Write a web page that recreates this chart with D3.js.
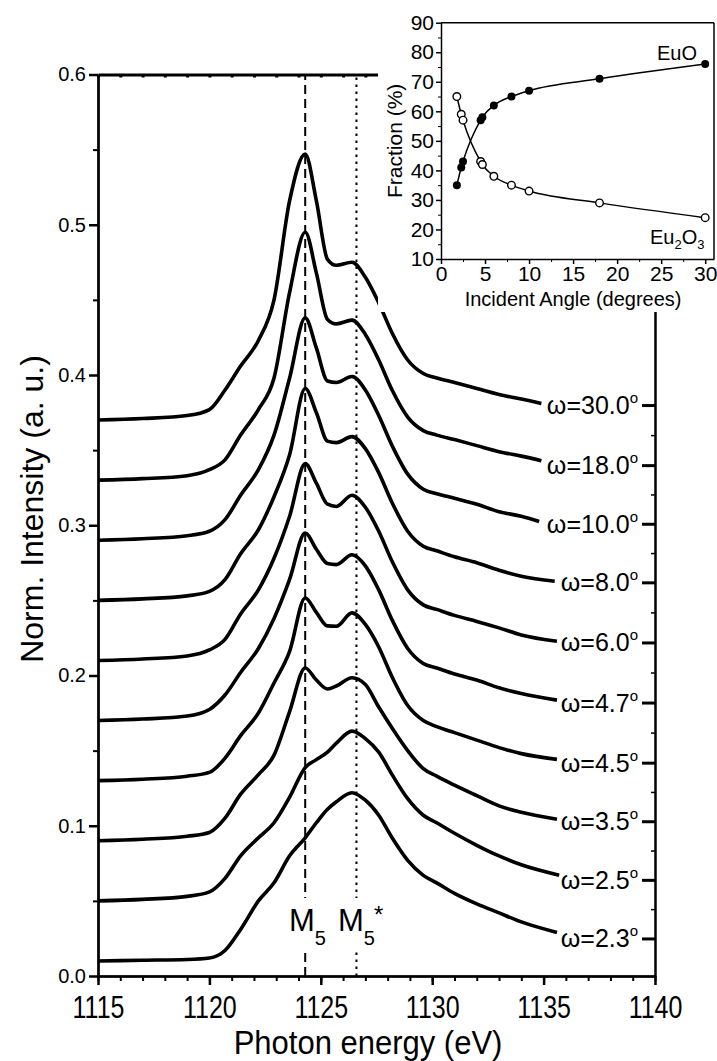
<!DOCTYPE html>
<html><head><meta charset="utf-8">
<script src="https://cdn.jsdelivr.net/npm/d3@7"></script>
<style>
body{margin:0;background:#fff}
svg{display:block}
text{font-family:"Liberation Sans",Arial,sans-serif;fill:#000}
</style>
</head><body>
<svg id="c" width="717" height="1061"></svg>
<script>
// ---------------- data ----------------
const energies = [1115,1117,1119,1120,1120.7,1121.4,1122.2,1122.9,1123.6,1124.3,1124.8,1125.3,1125.7,1126.4,1127.0,1127.6,1128.2,1128.9,1129.6,1130.2,1131.0,1132.0,1133.0,1134.0];
const angleLabels = ["30.0","18.0","10.0","8.0","6.0","4.7","4.5","3.5","2.5","2.3"];
const endEnergies = [1134.9,1134.9,1134.8,1135.5,1135.6,1135.6,1135.6,1135.6,1135.7,1135.6];
const w30 = [.370,.371,.373,.377,.390,.406,.423,.450,.516,.547,.516,.477,.473,.475,.465,.448,.428,.410,.401,.398,.395,.391,.387,.384,.381];
const w18 = [.330,.331,.333,.337,.3435,.360,.377,.398,.455,.495,.468,.437,.434,.4365,.427,.410,.390,.372,.363,.360,.357,.353,.349,.346,.343];
const w10 = [.290,.291,.293,.296,.3037,.320,.337,.360,.398,.438,.418,.396,.395,.399,.390,.373,.353,.334,.324,.321,.318,.314,.309,.306,.3025];
const w8  = [.250,.251,.253,.256,.2638,.281,.297,.319,.347,.391,.375,.356,.355,.359,.351,.335,.315,.296,.286,.283,.279,.275,.270,.266,.2627];
const w6  = [.210,.211,.213,.217,.224,.241,.257,.278,.306,.341,.328,.314,.3125,.320,.312,.296,.276,.257,.247,.244,.240,.236,.2317,.227,.2228];
const w47 = [.170,.171,.173,.1774,.187,.202,.218,.238,.264,.2948,.284,.2745,.2738,.2804,.273,.257,.237,.218,.208,.205,.201,.197,.1918,.188,.1836];
const w45 = [.130,.131,.133,.1355,.145,.160,.175,.195,.216,.2516,.242,.233,.2328,.2417,.234,.219,.199,.180,.170,.166,.162,.157,.152,.148,.1442];
const w35 = [.090,.091,.093,.0955,.105,.121,.134,.147,.176,.205,.197,.191,.193,.1985,.194,.179,.165,.150,.138,.133,.127,.120,.1132,.109,.1043];
const w25 = [.050,.051,.053,.056,.065,.080,.092,.102,.119,.1387,.144,.149,.155,.163,.158,.149,.134,.118,.107,.102,.095,.087,.0799,.074,.0671];
const w23 = [.010,.0105,.011,.012,.017,.031,.050,.062,.080,.092,.102,.111,.116,.122,.117,.107,.092,.077,.067,.062,.055,.048,.042,.036,.029];
const labelTicks = [0.380,0.340,0.301,0.262,0.222,0.182,0.142,0.103,0.064,0.025];
const peakLines = [1124.3, 1126.6];
const xTickValues = [1115,1120,1125,1130,1135,1140];
const yTickValues = [0.0,0.1,0.2,0.3,0.4,0.5,0.6];

// inset data
const insetAngles = [1.8,2.3,2.5,4.5,4.7,6,8,10,18,30];
const euoFraction = [35,41,43,57,58,62,65,67,71,76];
const eu2o3Fraction = [65,59,57,43,42,38,35,33,29,24];
const insetXTicks = [0,5,10,15,20,25,30];
const insetYTicks = [10,20,30,40,50,60,70,80,90];

// ---------------- drawing ----------------
const series = [w30,w18,w10,w8,w6,w47,w45,w35,w25,w23];
const svg = d3.select("#c");
const x = d3.scaleLinear().domain([1115,1140]).range([98,655]);
const y = d3.scaleLinear().domain([0,0.6]).range([976,74.5]);

// vertical reference lines
svg.append("line").attr("x1",x(peakLines[0])).attr("x2",x(peakLines[0]))
  .attr("y1",y(0)).attr("y2",y(0.6)).attr("stroke","#000").attr("stroke-width",2)
  .attr("stroke-dasharray","9,5");
svg.append("line").attr("x1",x(peakLines[1])).attr("x2",x(peakLines[1]))
  .attr("y1",y(0)).attr("y2",y(0.6)).attr("stroke","#000").attr("stroke-width",2)
  .attr("stroke-dasharray","2.5,4.5");

// M5 labels (white background breaks the lines)
svg.append("rect").attr("x",286).attr("y",898).attr("width",108).attr("height",52).attr("fill","#fff");
const m = svg.append("text").attr("x",289).attr("y",931).style("font-size","31px");
m.append("tspan").text("M");
m.append("tspan").attr("dy",14).style("font-size","20px").text("5");
const m2 = svg.append("text").attr("x",338).attr("y",931).style("font-size","31px");
m2.append("tspan").text("M");
m2.append("tspan").attr("dy",14).style("font-size","20px").text("5");
m2.append("tspan").attr("dy",-22).attr("dx",-1).style("font-size","24px").text("*");

// spectra
const line = d3.line().x(d=>x(d[0])).y(d=>y(d[1])).curve(d3.curveMonotoneX);
series.forEach((s,k)=>{
  const pts = s.map((v,i)=>[i<energies.length?energies[i]:endEnergies[k], v]);
  svg.append("path").attr("d",line(pts)).attr("fill","none").attr("stroke","#000")
    .attr("stroke-width",3.6).attr("stroke-linejoin","round");
});

// axes
function styleAxis(g, w){
  g.select(".domain").attr("stroke-width",w);
  g.selectAll(".tick line").attr("stroke-width",w);
}
const gb = svg.append("g").attr("transform",`translate(0,${y(0)})`)
  .call(d3.axisBottom(x).tickValues(xTickValues).tickSize(9).tickSizeOuter(0).tickFormat(d3.format("d")));
styleAxis(gb,2.5);
gb.selectAll("text").attr("y",null).attr("dy",null)
  .attr("transform","translate(0,42) scale(1,1.25)").style("font-size","25px");
const gbm = svg.append("g").attr("transform",`translate(0,${y(0)})`)
  .call(d3.axisBottom(x).tickValues(d3.range(1115,1141,1)).tickSize(5).tickSizeOuter(0).tickFormat(""));
styleAxis(gbm,2);

const gl = svg.append("g").attr("transform",`translate(${x(1115)},0)`)
  .call(d3.axisLeft(y).tickValues(yTickValues).tickSize(9).tickSizeOuter(0).tickPadding(3).tickFormat(d3.format(".1f")));
styleAxis(gl,2.5);
gl.selectAll("text").style("font-size","20px");
const glm = svg.append("g").attr("transform",`translate(${x(1115)},0)`)
  .call(d3.axisLeft(y).tickValues(d3.range(0.05,0.6,0.1)).tickSize(5).tickSizeOuter(0).tickFormat(""));
styleAxis(glm,2);

// top axis (inward minor ticks)
const gt = svg.append("g").attr("transform",`translate(0,${y(0.6)})`)
  .call(d3.axisTop(x).tickValues(d3.range(1115,1141,1)).tickSize(-3).tickSizeOuter(0).tickFormat(""));
styleAxis(gt,3);

// right axis with inward ticks at label positions
const gr = svg.append("g").attr("transform",`translate(${x(1140)},0)`)
  .call(d3.axisRight(y).tickValues(labelTicks).tickSize(-13).tickSizeOuter(0).tickFormat(""));
styleAxis(gr,2.5);
gr.selectAll(".tick line").attr("stroke-width",3);
const gr2 = svg.append("g").attr("transform",`translate(${x(1140)},0)`)
  .call(d3.axisRight(y).tickValues(d3.pairs(labelTicks).map(p=>(p[0]+p[1])/2)).tickSize(-4).tickSizeOuter(0).tickFormat(""));
gr2.select(".domain").remove();
gr2.selectAll(".tick line").attr("stroke-width",1.5);

// curve labels
labelTicks.forEach((v,i)=>{
  const t = svg.append("text").attr("x",638).attr("y",y(v)+9).attr("text-anchor","end").style("font-size","25px");
  t.append("tspan").text("ω");
  t.append("tspan").text("="+angleLabels[i]);
  t.append("tspan").attr("dy",-11).style("font-size","15px").text("o");
});

// axis titles
svg.append("text").attr("transform","translate(368,1054) scale(1,1.08)").attr("text-anchor","middle").style("font-size","31px").text("Photon energy (eV)");
svg.append("text").attr("transform","translate(43,509) rotate(-90)").attr("text-anchor","middle").style("font-size","32px").text("Norm. Intensity (a. u.)");

// ---------------- inset ----------------
svg.append("rect").attr("x",378).attr("y",0).attr("width",339).attr("height",312).attr("fill","#fff");
const ix = d3.scaleLinear().domain([0,31]).range([441,714]);
const iy = d3.scaleLinear().domain([10,90]).range([259,22.7]);
const ib = svg.append("g").attr("transform",`translate(0,${iy(10)})`)
  .call(d3.axisBottom(ix).tickValues(insetXTicks).tickSize(5).tickSizeOuter(0).tickPadding(2));
styleAxis(ib,1.5);
ib.selectAll("text").style("font-size","21px");
const ibm = svg.append("g").attr("transform",`translate(0,${iy(10)})`)
  .call(d3.axisBottom(ix).tickValues(d3.range(2.5,31,5)).tickSize(3).tickSizeOuter(0).tickFormat(""));
ibm.select(".domain").remove();
const il = svg.append("g").attr("transform",`translate(${ix(0)},0)`)
  .call(d3.axisLeft(iy).tickValues(insetYTicks).tickSize(5).tickSizeOuter(0).tickPadding(2));
styleAxis(il,1.5);
il.selectAll("text").style("font-size","21px");
const ilm = svg.append("g").attr("transform",`translate(${ix(0)},0)`)
  .call(d3.axisLeft(iy).tickValues(d3.range(15,90,10)).tickSize(3).tickSizeOuter(0).tickFormat(""));
ilm.select(".domain").remove();
svg.append("line").attr("x1",ix(0)).attr("x2",ix(31)).attr("y1",iy(90)).attr("y2",iy(90)).attr("stroke","#000").attr("stroke-width",1.5);
svg.append("line").attr("x1",ix(31)).attr("x2",ix(31)).attr("y1",iy(90)).attr("y2",iy(10)).attr("stroke","#000").attr("stroke-width",1.5);

const iline = d3.line().x(d=>ix(d[0])).y(d=>iy(d[1])).curve(d3.curveMonotoneX);
const euoPts = insetAngles.map((a,i)=>[a,euoFraction[i]]);
const eu2Pts = insetAngles.map((a,i)=>[a,eu2o3Fraction[i]]);
svg.append("path").attr("d",iline(euoPts)).attr("fill","none").attr("stroke","#000").attr("stroke-width",1.5);
svg.append("path").attr("d",iline(eu2Pts)).attr("fill","none").attr("stroke","#000").attr("stroke-width",1.5);
svg.selectAll(".euo").data(euoPts).join("circle").attr("cx",d=>ix(d[0])).attr("cy",d=>iy(d[1])).attr("r",4).attr("fill","#000");
svg.selectAll(".eu2").data(eu2Pts).join("circle").attr("cx",d=>ix(d[0])).attr("cy",d=>iy(d[1])).attr("r",3.8).attr("fill","#fff").attr("stroke","#000").attr("stroke-width",1.4);

svg.append("text").attr("x",ix(15.0)).attr("y",306).attr("text-anchor","middle").style("font-size","20px").text("Incident Angle (degrees)");
svg.append("text").attr("transform",`translate(402,${iy(50)}) rotate(-90)`).attr("text-anchor","middle").style("font-size","21px").text("Fraction (%)");
svg.append("text").attr("x",697).attr("y",60).attr("text-anchor","end").style("font-size","20px").text("EuO");
const eu = svg.append("text").attr("x",650).attr("y",244).style("font-size","20px");
eu.append("tspan").text("Eu");
eu.append("tspan").attr("dy",5).style("font-size","13px").text("2");
eu.append("tspan").attr("dy",-5).text("O");
eu.append("tspan").attr("dy",5).style("font-size","13px").text("3");
</script>
</body></html>
